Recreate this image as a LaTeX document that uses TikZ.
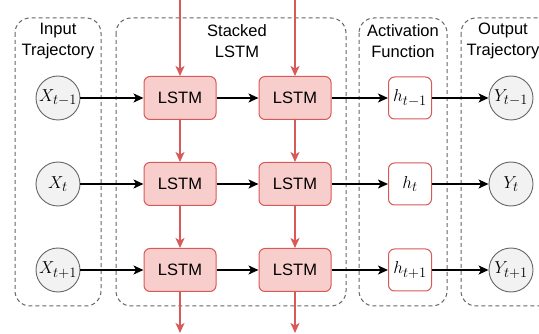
\documentclass[tikz,border=0pt]{standalone}
\usepackage{fontspec}
\setmainfont{Liberation Sans}
\usetikzlibrary{arrows.meta}
\definecolor{lstmfill}{HTML}{F8CECC}
\definecolor{lstmred}{HTML}{D85A58}
\definecolor{circfill}{HTML}{F2F2F2}
\definecolor{dashgray}{HTML}{666666}
\begin{document}
\begin{tikzpicture}[x=1pt, y=-1pt, font=\fontsize{16.5}{20.5}\selectfont,
		group/.style = {draw=dashgray, dash pattern=on 4pt off 3pt, line width=1pt, rounded corners=15pt},
		traj/.style = {draw=dashgray, fill=circfill, circle, minimum size=44pt, inner sep=0pt, line width=0.9pt, font=\fontsize{19}{22}\selectfont},
		lstm/.style = {draw=lstmred, fill=lstmfill, rounded corners=6pt, minimum width=72pt, minimum height=43pt, line width=1pt},
		act/.style = {draw=lstmred, fill=white, rounded corners=6pt, minimum width=43pt, minimum height=42pt, inner sep=0pt, line width=1pt, font=\fontsize{19}{22}\selectfont},
		flow/.style = {-{Stealth[length=10pt, width=9pt, inset=2.5pt]}, line width=1.4pt},
		redflow/.style = {flow, draw=lstmred, line width=1.1pt}]
				\clip (0,0) rectangle (539,334);
				% dashed groups
				\draw[group] (15,18) rectangle (101,306);
				\draw[group] (116,18) rectangle (346,306);
				\draw[group] (359,18) rectangle (447,306);
				\draw[group] (461,18) rectangle (575,306);
				\node (inTitle) at (58,41) [align=center] {Input\\Trajectory};
				\node (lstmTitle) at (237,41) [align=center] {Stacked\\LSTM};
				\node (actTitle) at (403,41) [align=center] {Activation\\Function};
				\node (outTitle) at (503,41) [align=center] {Output\\Trajectory};
				% input trajectory
				\node (X1) at (58,98) [traj] {$X_{t-1}$};
				\node (X2) at (58,184) [traj] {$X_{t}$};
				\node (X3) at (58,270) [traj] {$X_{t+1}$};
				% stacked lstm
				\node (L11) at (180,98) [lstm] {LSTM};
				\node (L12) at (295,98) [lstm] {LSTM};
				\node (L21) at (180,184) [lstm] {LSTM};
				\node (L22) at (295,184) [lstm] {LSTM};
				\node (L31) at (180,270) [lstm] {LSTM};
				\node (L32) at (295,270) [lstm] {LSTM};
				% activation
				\node (H1) at (410,98) [act] {$h_{t-1}$};
				\node (H2) at (410,184) [act] {$h_{t}$};
				\node (H3) at (410,270) [act] {$h_{t+1}$};
				% output trajectory
				\node (Y1) at (511,98) [traj] {$Y_{t-1}$};
				\node (Y2) at (511,184) [traj] {$Y_{t}$};
				\node (Y3) at (511,270) [traj] {$Y_{t+1}$};
				\coordinate (top1) at (180,0);
				\coordinate (top2) at (295,0);
				\coordinate (bot1) at (180,333);
				\coordinate (bot2) at (295,333);
				% horizontal flow
				\draw[flow] (X1) -- (L11);
				\draw[flow] (L11) -- (L12);
				\draw[flow] (L12) -- (H1);
				\draw[flow] (H1) -- (Y1);
				\draw[flow] (X2) -- (L21);
				\draw[flow] (L21) -- (L22);
				\draw[flow] (L22) -- (H2);
				\draw[flow] (H2) -- (Y2);
				\draw[flow] (X3) -- (L31);
				\draw[flow] (L31) -- (L32);
				\draw[flow] (L32) -- (H3);
				\draw[flow] (H3) -- (Y3);
				% vertical flow
				\draw[redflow] (top1) -- (L11);
				\draw[redflow] (top2) -- (L12);
				\draw[redflow] (L11) -- (L21);
				\draw[redflow] (L12) -- (L22);
				\draw[redflow] (L21) -- (L31);
				\draw[redflow] (L22) -- (L32);
				\draw[redflow] (L31) -- (bot1);
				\draw[redflow] (L32) -- (bot2);
\end{tikzpicture}
\end{document}
